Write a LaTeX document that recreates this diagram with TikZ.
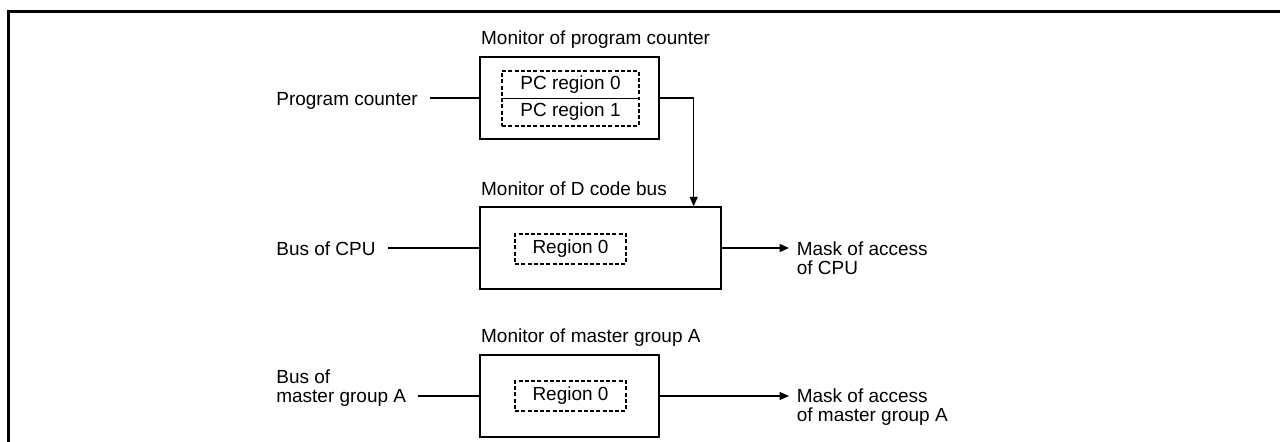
\documentclass[tikz,border=0pt]{standalone}
\usepackage{fontspec}
\setmainfont{Liberation Sans}
\usetikzlibrary{arrows.meta}
\begin{document}
\begin{tikzpicture}[x=0.02cm,y=-0.02cm,
  every node/.style={font=\fontsize{10.8}{10.8}\selectfont},
  monbox/.style={draw,line width=0.8pt,minimum width=3.58cm,minimum height=1.64cm},
  regbox/.style={draw,line width=1.05pt,dash pattern=on 0.08cm off 0.045cm,minimum width=2.22cm,minimum height=0.56cm},
  lbl/.style={inner sep=0pt,anchor=base west},
  intxt/.style={anchor=west,align=left,inner ysep=0pt,inner xsep=0.24cm},
  outtxt/.style={anchor=west,align=left,inner ysep=0pt,inner xsep=0.15cm},
  wire/.style={line width=0.8pt},
  arr/.style={wire,-{Triangle[length=0.19cm,width=0.16cm]}}]
\useasboundingbox (0,0) rectangle (1280,442);
\draw[line width=1.5pt] (8.5,442) -- (8.5,11.5) -- (1280,11.5);
\node[monbox] (pcmon) at (569.5,98) {};
\node[regbox,minimum width=2.74cm,minimum height=1.1cm] (pcreg) at (570.5,98.5) {};
\draw[wire] (pcreg.west) -- (pcreg.east);
\node (pcr0) at (570.5,85) {PC region 0};
\node (pcr1) at (570.5,112) {PC region 1};
\node[lbl] (pctitle) at ([xshift=0.03cm,yshift=0.23cm]pcmon.north west) {Monitor of program counter};
\node[monbox,minimum width=4.82cm] (dbmon) at (600.5,248) {};
\node[regbox] (dbreg) at (570.5,249) {Region 0};
\node[lbl] (dbtitle) at ([xshift=0.03cm,yshift=0.21cm]dbmon.north west) {Monitor of D code bus};
\node[monbox] (mgmon) at (569.5,396) {};
\node[regbox] (mgreg) at (570.5,396) {Region 0};
\node[lbl] (mgtitle) at ([xshift=0.03cm,yshift=0.23cm]mgmon.north west) {Monitor of master group A};
\node[intxt] (pcin) at (264,100.5) {Program counter};
\node[intxt] (cpuin) at (264,249) {Bus of CPU};
\node[intxt] (mgin) at (264,388.5) {Bus of\\master group A};
\node[outtxt] (cpuout) at (789,258.5) {Mask of access\\of CPU};
\node[outtxt] (mgout) at (789,407.5) {Mask of access\\of master group A};
\draw[wire] (pcmon.west -| pcin.east) -- (pcmon.west);
\draw[wire] (dbmon.west -| cpuin.east) -- (dbmon.west);
\draw[wire] (mgmon.west -| mgin.east) -- (mgmon.west);
\draw[arr] (pcmon.east) -| ([xshift=-0.56cm]dbmon.north east);
\draw[arr] (dbmon.east) -- (dbmon.east -| cpuout.west);
\draw[arr] (mgmon.east) -- (mgmon.east -| mgout.west);
\end{tikzpicture}
\end{document}
